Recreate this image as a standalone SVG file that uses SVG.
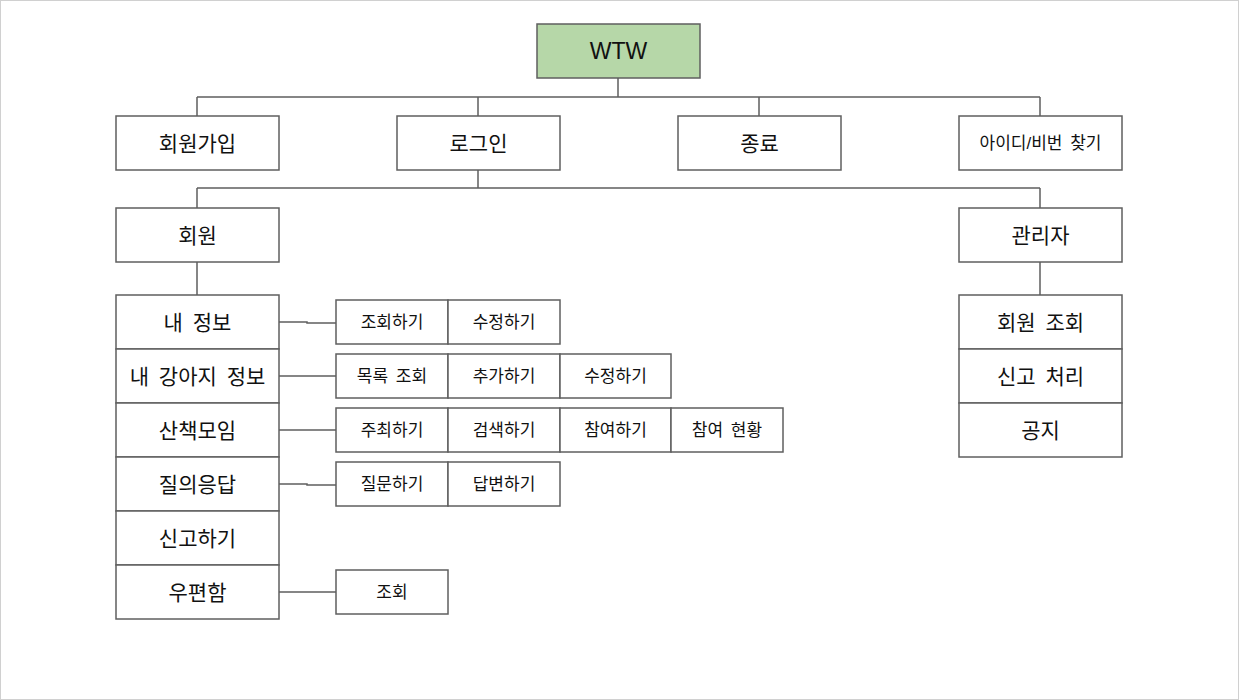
<svg xmlns="http://www.w3.org/2000/svg" width="1239" height="700" viewBox="0 0 1239 700">
<style>
.b{fill:#fff;stroke:#5f5f5f;stroke-width:1.5}
.r{fill:#b6d7a8;stroke:#5f5f5f;stroke-width:1.5}
.c{fill:none;stroke:#5f5f5f;stroke-width:1.5}
text{font-family:"Liberation Sans","Noto Sans CJK KR",sans-serif;fill:#111;text-anchor:middle;dominant-baseline:central}
.l{font-size:21px;word-spacing:4px}
.s{font-size:17px;word-spacing:3px}
</style>
<rect x="0.5" y="0.5" width="1238" height="699" fill="#fff" stroke="#d0d0d0"/>
<g id="connectors">
<path class="c" d="M618 78V97M197 97H1040M197 97V116M478 97V116M759 97V116M1040 97V116"/>
<path class="c" d="M478 170V188M197 188H1040M197 188V208M1040 188V208"/>
<path class="c" d="M197 262V295M1040 262V295"/>
<path class="c" d="M279 322H307V323H336M279 376H336M279 430H336M279 484H307V485H336M279 592H336"/>
</g>
<g id="wtw"><rect class="r" x="537" y="24" width="163" height="54"/><text x="618.5" y="51" style="font-size:23px">WTW</text></g>
<g id="signup"><rect class="b" x="116" y="116" width="163" height="54"/><text class="l" x="197.5" y="143">회원가입</text></g>
<g id="login"><rect class="b" x="397" y="116" width="163" height="54"/><text class="l" x="478.5" y="143">로그인</text></g>
<g id="exit"><rect class="b" x="678" y="116" width="163" height="54"/><text class="l" x="759.5" y="143">종료</text></g>
<g id="find"><rect class="b" x="959" y="116" width="163" height="54"/><text class="s" x="1040.5" y="143">아이디/비번 찾기</text></g>
<g id="member"><rect class="b" x="116" y="208" width="163" height="54"/><text class="l" x="197.5" y="235">회원</text></g>
<g id="admin"><rect class="b" x="959" y="208" width="163" height="54"/><text class="l" x="1040.5" y="235">관리자</text></g>
<g id="myinfo"><rect class="b" x="116" y="295" width="163" height="54"/><text class="l" x="197.5" y="322">내 정보</text></g>
<g id="mydog"><rect class="b" x="116" y="349" width="163" height="54"/><text class="l" x="197.5" y="376">내 강아지 정보</text></g>
<g id="walk"><rect class="b" x="116" y="403" width="163" height="54"/><text class="l" x="197.5" y="430">산책모임</text></g>
<g id="qna"><rect class="b" x="116" y="457" width="163" height="54"/><text class="l" x="197.5" y="484">질의응답</text></g>
<g id="report"><rect class="b" x="116" y="511" width="163" height="54"/><text class="l" x="197.5" y="538">신고하기</text></g>
<g id="mailbox"><rect class="b" x="116" y="565" width="163" height="54"/><text class="l" x="197.5" y="592">우편함</text></g>
<g id="myinfo-view"><rect class="b" x="336" y="300" width="112" height="44"/><text class="s" x="392" y="322">조회하기</text></g>
<g id="myinfo-edit"><rect class="b" x="448" y="300" width="112" height="44"/><text class="s" x="504" y="322">수정하기</text></g>
<g id="dog-list"><rect class="b" x="336" y="354" width="112" height="44"/><text class="s" x="392" y="376">목록 조회</text></g>
<g id="dog-add"><rect class="b" x="448" y="354" width="112" height="44"/><text class="s" x="504" y="376">추가하기</text></g>
<g id="dog-edit"><rect class="b" x="560" y="354" width="111" height="44"/><text class="s" x="615.5" y="376">수정하기</text></g>
<g id="walk-host"><rect class="b" x="336" y="408" width="112" height="44"/><text class="s" x="392" y="430">주최하기</text></g>
<g id="walk-search"><rect class="b" x="448" y="408" width="112" height="44"/><text class="s" x="504" y="430">검색하기</text></g>
<g id="walk-join"><rect class="b" x="560" y="408" width="111" height="44"/><text class="s" x="615.5" y="430">참여하기</text></g>
<g id="walk-status"><rect class="b" x="671" y="408" width="112" height="44"/><text class="s" x="727" y="430">참여 현황</text></g>
<g id="qna-ask"><rect class="b" x="336" y="462" width="112" height="44"/><text class="s" x="392" y="484">질문하기</text></g>
<g id="qna-answer"><rect class="b" x="448" y="462" width="112" height="44"/><text class="s" x="504" y="484">답변하기</text></g>
<g id="mail-view"><rect class="b" x="336" y="570" width="112" height="44"/><text class="s" x="392" y="592">조회</text></g>
<g id="admin-members"><rect class="b" x="959" y="295" width="163" height="54"/><text class="l" x="1040.5" y="322">회원 조회</text></g>
<g id="admin-reports"><rect class="b" x="959" y="349" width="163" height="54"/><text class="l" x="1040.5" y="376">신고 처리</text></g>
<g id="admin-notice"><rect class="b" x="959" y="403" width="163" height="54"/><text class="l" x="1040.5" y="430">공지</text></g>
</svg>
